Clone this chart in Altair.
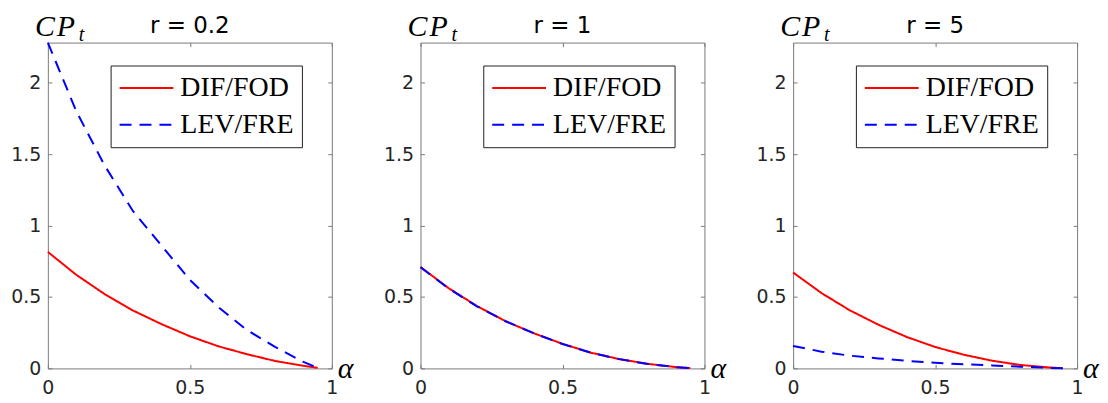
import altair as alt
import pandas as pd

# ---- data ----
alpha = [0, 0.1, 0.2, 0.3, 0.4, 0.5, 0.6, 0.7, 0.8, 0.9, 0.95]
series_names = ["DIF/FOD", "LEV/FRE"]
panel_titles = ["r = 0.2", "r = 1", "r = 5"]

dif_r02 = [0.815, 0.655, 0.52, 0.405, 0.31, 0.225, 0.155, 0.10, 0.052, 0.018, 0.004]
lev_r02 = [2.28, 1.80, 1.42, 1.10, 0.86, 0.62, 0.43, 0.27, 0.15, 0.045, 0.004]

dif_r1 = [0.71, 0.56, 0.435, 0.33, 0.245, 0.172, 0.11, 0.065, 0.032, 0.009, 0.002]
lev_r1 = [0.708, 0.558, 0.433, 0.33, 0.245, 0.171, 0.11, 0.065, 0.031, 0.009, 0.001]

dif_r5 = [0.671, 0.527, 0.406, 0.306, 0.22, 0.15, 0.096, 0.054, 0.024, 0.007, 0.001]
lev_r5 = [0.157, 0.117, 0.089, 0.07, 0.053, 0.039, 0.029, 0.021, 0.012, 0.004, 0.001]

x_ticks = [0, 0.5, 1]
y_ticks = [0, 0.5, 1, 1.5, 2]
y_max = 2.28

# ---- styling ----
W, H = 285, 327
AX = "#7a7a7a"
LAB = "#262626"
SANS = "DejaVu Sans"
SERIF = "Liberation Serif"


def axis(orient, values, labels=True):
    kw = dict(
        orient=orient, values=values, format="~g", domain=False, grid=False,
        offset=-4, tickSize=4, tickColor=AX, tickWidth=1, title=None,
        labels=labels,
    )
    if labels:
        kw.update(labelFont=SANS, labelFontSize=19, labelColor=LAB,
                  labelFlush=False, labelOverlap=False,
                  labelPadding=10 if orient in ("bottom", "top") else 7)
    return alt.Axis(**kw)


def text(s, x, y, size, style="italic", font=SERIF, align="left"):
    return alt.Chart(pd.DataFrame({"t": [s]})).mark_text(
        font=font, fontSize=size, fontStyle=style, align=align,
        baseline="alphabetic", color="black"
    ).encode(x=alt.value(x), y=alt.value(y), text="t:N")


def panel(title, dif, lev):
    df = pd.DataFrame({
        "alpha": alpha * 2,
        "cp": dif + lev,
        "series": [series_names[0]] * len(alpha) + [series_names[1]] * len(alpha),
    })
    xs = alt.Scale(domain=[0, 1], nice=False, zero=False)
    ys = alt.Scale(domain=[0, y_max], nice=False)
    leg = alt.Legend(title=None)
    color = alt.Color("series:N", legend=leg,
                      scale=alt.Scale(domain=series_names, range=["#ff0000", "#0000ff"]))
    dash = alt.StrokeDash("series:N", legend=leg,
                          scale=alt.Scale(domain=series_names, range=[[1, 0], [12, 8]]))
    base = alt.Chart(df)
    red = base.transform_filter(alt.datum.series == series_names[0]).mark_line(
        strokeWidth=2).encode(
        x=alt.X("alpha:Q", scale=xs, axis=axis("bottom", x_ticks)),
        y=alt.Y("cp:Q", scale=ys, axis=axis("left", y_ticks)),
        color=color, strokeDash=dash,
    )
    blue = base.transform_filter(alt.datum.series == series_names[1]).mark_line(
        strokeWidth=2).encode(
        x=alt.X("alpha:Q", scale=xs, axis=None),
        y=alt.Y("cp:Q", scale=ys, axis=None),
        color=color, strokeDash=dash,
    )
    frame = base.mark_point(opacity=0).encode(
        x=alt.X("alpha:Q", scale=xs, axis=axis("top", x_ticks, labels=False)),
        y=alt.Y("cp:Q", scale=ys, axis=axis("right", y_ticks, labels=False)),
    )
    ann = [
        text("C", -13, -7, 30),
        text("P", 9, -7, 30),
        text("t", 31, -2, 20),
        text("\u03b1", W + 6, H + 10, 30),
        text(title, W / 2, -9.5, 23, style="normal", font=SANS, align="center"),
    ]
    return alt.layer(red, blue, frame, *ann).properties(width=W, height=H)


chart = alt.hconcat(
    panel(panel_titles[0], dif_r02, lev_r02),
    panel(panel_titles[1], dif_r1, lev_r1),
    panel(panel_titles[2], dif_r5, lev_r5),
    spacing=89, bounds="flush",
).resolve_scale(
    color="independent", strokeDash="independent"
).resolve_legend(
    color="independent", strokeDash="independent"
).configure_view(
    stroke=AX, strokeWidth=1
).configure_legend(
    orient="none", legendX=63, legendY=23,
    strokeColor="#222222", fillColor="white", padding=8,
    symbolType="M-2,0H2", symbolSize=729, symbolStrokeWidth=2,
    symbolOffset=13.5,
    labelFont=SERIF, labelFontSize=28, labelColor="black",
    labelOffset=19.5, rowPadding=8, labelLimit=300,
).properties(
    padding={"left": 2, "top": 2, "right": 0, "bottom": 0},
    background="white",
)

chart.save("out.html", embed_options={"renderer": "svg", "actions": False})
